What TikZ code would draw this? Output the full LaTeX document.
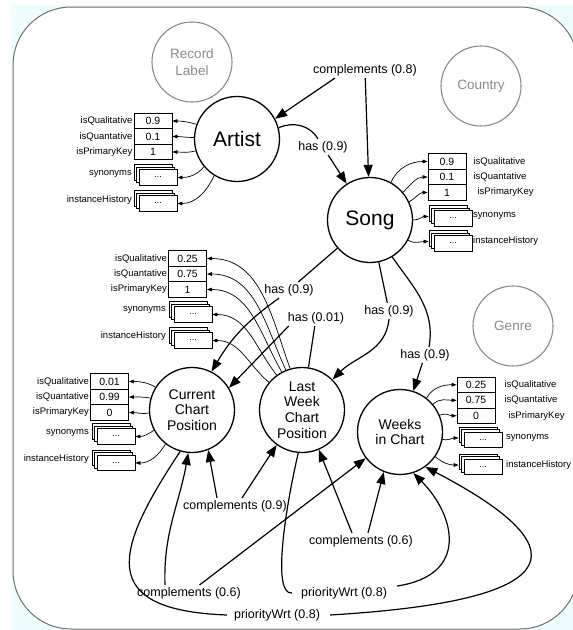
\documentclass[tikz,border=0pt]{standalone}
\usepackage{fontspec}
\setmainfont{Liberation Sans}
\usetikzlibrary{arrows.meta}

\definecolor{pagebg}{HTML}{EEFDFD}
\definecolor{framegray}{HTML}{6E6E6E}
\definecolor{ghost}{HTML}{8A8A8A}

\tikzset{
  concept/.style={circle, draw, line width=1.3pt, minimum size=85pt, inner sep=0pt,
    align=center, font=\fontsize{14}{15.8}\selectfont},
  bigconcept/.style={concept, font=\fontsize{21}{24}\selectfont},
  ghostconcept/.style={circle, draw=ghost, text=ghost, line width=1.1pt, minimum size=80pt,
    inner sep=0pt, align=center, font=\fontsize{13.5}{17}\selectfont},
  rel/.style={font=\fontsize{12.5}{14}\selectfont, inner sep=2pt},
  link/.style={line width=1.2pt},
  arr/.style={link, -{Triangle[length=12pt,width=9pt]}},
  pbox/.style={draw, line width=0.8pt, fill=white, minimum width=38pt, minimum height=15.5pt,
    inner sep=0pt, font=\fontsize{10.5}{12}\selectfont},
  pname/.style={font=\fontsize{9.5}{11}\selectfont, inner sep=1pt},
  parr/.style={line width=0.7pt, -{Triangle[length=5pt,width=3.6pt]}},
}

% a stack of three boxes; the front box carries the name
\newcommand{\propstack}[2]{%
  \node[pbox, xshift=-5pt, yshift=5pt] at (#2) {};
  \node[pbox, xshift=-2.5pt, yshift=2.5pt] at (#2) {};
  \node[pbox, font=\fontsize{9}{10}\selectfont] (#1) at (#2) {...};}

\begin{document}
\begin{tikzpicture}[x=1pt,y=1pt]
\useasboundingbox (0,0) rectangle (573,-630);
\clip (0,0) rectangle (573,-630);

% canvas
\fill[white] (0,0) rectangle (573,-630);
\fill[pagebg] (11,-5) rectangle (590,-640);
\filldraw[fill=white, draw=framegray, line width=1pt, rounded corners=58pt]
  (13,-7) rectangle (578,-629);

% concepts
\node[ghostconcept] (reclabel) at (192,-62) {Record\\Label};
\node[ghostconcept] (country) at (481,-86) {Country};
\node[ghostconcept] (genre) at (513,-326) {Genre};

\node[bigconcept] (artist) at (237,-139) {Artist};
\node[bigconcept] (song) at (370,-220) {Song};
\node[concept] (ccp) at (192,-410) {Current\\Chart\\Position};
\node[concept] (lwcp) at (302,-410) {Last\\Week\\Chart\\Position};
\node[concept] (wic) at (400,-432) {Weeks\\in Chart};

% relation labels
\node[rel] (c08) at (365,-70) {complements (0.8)};
\node[rel] (h1) at (323,-147) {has (0.9)};
\node[rel] (h2) at (289,-290) {has (0.9)};
\node[rel] (h3) at (389,-311) {has (0.9)};
\node[rel] (h4) at (425,-355) {has (0.9)};
\node[rel] (h5) at (316,-318) {has (0.01)};
\node[rel] (c09) at (235,-506) {complements (0.9)};
\node[rel] (c06a) at (189,-593) {complements (0.6)};
\node[rel] (c06b) at (361,-541) {complements (0.6)};
\node[rel] (p1) at (344,-593) {priorityWrt (0.8)};
\node[rel] (p2) at (277,-615) {priorityWrt (0.8)};

% relations
\draw[arr] ([xshift=-30pt]c08.south) -- (artist.28);
\draw[arr] (c08) -- (song);

\draw[link] (artist.15) to[out=25,in=120] ([xshift=-5pt]h1.north);
\draw[arr] (h1) -- (song);

\draw[link] (song) -- (h2);
\draw[arr] (h2) to[bend right=12] (ccp);

\draw[link] (song) -- (h3);
\draw[arr] (h3.south) to[out=-95,in=45] (lwcp.45);

\draw[link] (song.-59) to[out=-55,in=80] ([xshift=4pt]h4.north);
\draw[arr] (h4) -- (wic);

\draw[link] (lwcp) -- (h5);
\draw[arr] ([xshift=3pt]h5.south west) -- (ccp.31);

\draw[arr] ([xshift=-18pt]c09.north) -- (ccp.-68);
\draw[arr] ([xshift=7pt]c09.north) -- (lwcp.-126);

\draw[arr] ([xshift=-24pt]c06a.north) to[out=92,in=-100] (ccp.-95);
\draw[arr] (c06a) -- (wic);

\draw[arr] ([xshift=-9pt]c06b.north) -- (lwcp.-67);
\draw[arr] ([xshift=7pt]c06b.north) -- (wic.-112);

\draw[link] (lwcp.-95) .. controls (285,-510) and (272,-595) .. ([xshift=-7pt]p1.west);
\draw[arr] ([shift={(8pt,7pt)}]p1.east) .. controls (470,-575) and (455,-515) .. (wic.-72);

\draw[link] (ccp.-106) .. controls (115,-550) and (95,-610) .. ([xshift=-5pt]p2.west);
\draw[arr] ([xshift=8pt]p2.east) .. controls (580,-600) and (575,-545) .. (wic.-54);

% Artist attributes
\node[pbox] (aq) at (153,-121) {0.9};
\node[pbox] (an) at (153,-136.5) {0.1};
\node[pbox] (ap) at (153,-152) {1};
\node[pname, anchor=east] at (aq.west) {isQualitative};
\node[pname, anchor=east] at (an.west) {isQuantative};
\node[pname, anchor=east] at (ap.west) {isPrimaryKey};
\propstack{as}{158,-177.5}
\propstack{ai}{158,-203.5}
\node[pname, anchor=east] at (133,-174) {synonyms};
\node[pname, anchor=east] at (133,-200) {instanceHistory};
\draw[parr] (artist.160) to[out=165,in=0] (aq.east);
\draw[parr] (artist.178) to[out=180,in=0] (an.east);
\draw[parr] (artist.196) to[out=195,in=0] (ap.east);
\draw[parr] (artist.220) to[out=230,in=0] (as.east);
\draw[parr] (artist.238) to[out=245,in=0] (ai.east);

% Song attributes
\node[pbox] (sq) at (447,-161.5) {0.9};
\node[pbox] (sn) at (447,-177) {0.1};
\node[pbox] (sp) at (447,-192.5) {1};
\node[pname, anchor=west] at ([xshift=6pt]sq.east) {isQualitative};
\node[pname, anchor=west] at ([xshift=6pt]sn.east) {isQuantative};
\node[pname, anchor=west] at ([xshift=10pt]sp.east) {isPrimaryKey};
\propstack{ss}{453,-218.5}
\propstack{si}{453,-243.5}
\node[pname, anchor=west] at (472,-216) {synonyms};
\node[pname, anchor=west] at (472,-241) {instanceHistory};
\draw[parr] (song.61) to[out=65,in=180] (sq.west);
\draw[parr] (song.40) to[out=45,in=180] (sn.west);
\draw[parr] (song.25) to[out=30,in=180] (sp.west);
\draw[parr] (song.0) to[out=0,in=180] ([xshift=-5pt,yshift=2pt]ss.west);
\draw[parr] (song.-28) to[out=-30,in=180] ([xshift=-5pt,yshift=2pt]si.west);

% Current Chart Position attributes
\node[pbox] (cq) at (109.5,-381.5) {0.01};
\node[pbox] (cn) at (109.5,-397) {0.99};
\node[pbox] (cp) at (109.5,-412.5) {0};
\node[pname, anchor=east] at (cq.west) {isQualitative};
\node[pname, anchor=east] at (cn.west) {isQuantative};
\node[pname, anchor=east] at (cp.west) {isPrimaryKey};
\propstack{cs}{116,-436.5}
\propstack{ci}{116,-463}
\node[pname, anchor=east] at (90,-433) {synonyms};
\node[pname, anchor=east] at (90,-459) {instanceHistory};
\draw[parr] (ccp.148) to[out=150,in=0] (cq.east);
\draw[parr] (ccp.164) to[out=170,in=0] (cn.east);
\draw[parr] (ccp.184) to[out=190,in=0] (cp.east);
\draw[parr] (ccp.208) to[out=215,in=0] (cs.east);
\draw[parr] (ccp.232) to[out=240,in=0] (ci.east);

% Last Week Chart Position attributes
\node[pbox] (lq) at (187.5,-258.5) {0.25};
\node[pbox] (ln) at (187.5,-274) {0.75};
\node[pbox] (lp) at (187.5,-289.5) {1};
\node[pname, anchor=east] at (lq.west) {isQualitative};
\node[pname, anchor=east] at (ln.west) {isQuantative};
\node[pname, anchor=east] at (lp.west) {isPrimaryKey};
\propstack{ls}{193,-314.5}
\propstack{li}{193,-340.5}
\node[pname, anchor=east] at (167,-310) {synonyms};
\node[pname, anchor=east] at (167,-336) {instanceHistory};
\draw[parr] (lwcp.106) to[out=110,in=0] (lq.east);
\draw[parr] (lwcp.112) to[out=115,in=0] (ln.east);
\draw[parr] (lwcp.118) to[out=120,in=0] (lp.east);
\draw[parr] (lwcp.126) to[out=128,in=0] (ls.east);
\draw[parr] (lwcp.140) to[out=140,in=0] (li.east);

% Weeks in Chart attributes
\node[pbox] (wq) at (476,-384.75) {0.25};
\node[pbox] (wn) at (476,-400.25) {0.75};
\node[pbox] (wp) at (476,-415.75) {0};
\node[pname, anchor=west] at ([xshift=8pt]wq.east) {isQualitative};
\node[pname, anchor=west] at ([xshift=8pt]wn.east) {isQuantative};
\node[pname, anchor=west] at ([xshift=12pt]wp.east) {isPrimaryKey};
\propstack{ws}{483,-440}
\propstack{wi}{483,-467}
\node[pname, anchor=west] at (505,-438) {synonyms};
\node[pname, anchor=west] at (505,-465) {instanceHistory};
\draw[parr] (wic.52) to[out=60,in=180] (wq.west);
\draw[parr] (wic.40) to[out=45,in=180] (wn.west);
\draw[parr] (wic.23) to[out=25,in=180] (wp.west);
\draw[parr] (wic.-10) to[out=-10,in=180] ([xshift=-5pt,yshift=2pt]ws.west);
\draw[parr] (wic.-35) to[out=-40,in=180] ([xshift=-5pt,yshift=2pt]wi.west);
\end{tikzpicture}
\end{document}
